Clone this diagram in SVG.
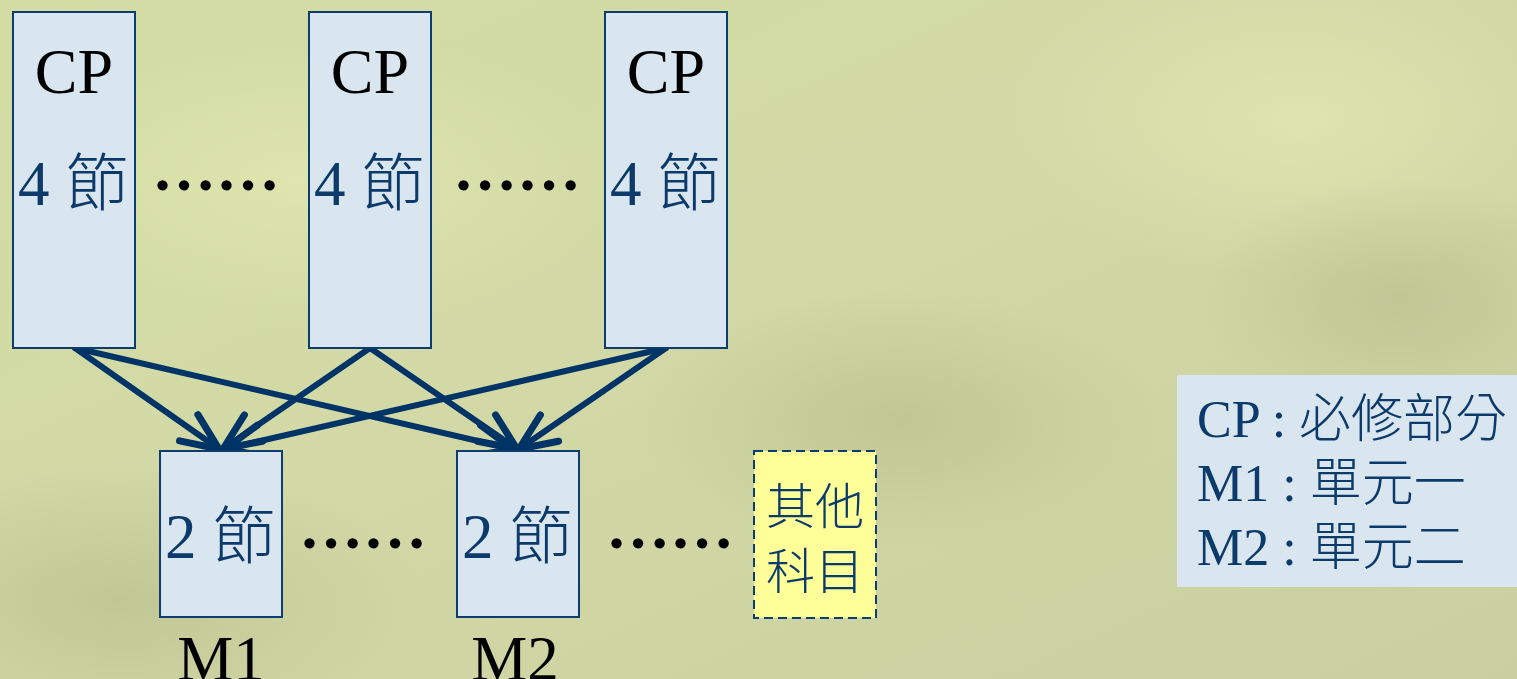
<svg xmlns="http://www.w3.org/2000/svg" width="1517" height="679" viewBox="0 0 1517 679">
<defs>
<linearGradient id="bg" x1="0" y1="0" x2="1" y2="1">
<stop offset="0" stop-color="#d3dca3"/>
<stop offset="0.45" stop-color="#d2d9a6"/>
<stop offset="1" stop-color="#c9cf9f"/>
</linearGradient>
<radialGradient id="lt" cx="0.5" cy="0.5" r="0.5">
<stop offset="0" stop-color="#dfe6b0" stop-opacity="0.9"/>
<stop offset="1" stop-color="#dfe6b0" stop-opacity="0"/>
</radialGradient>
<radialGradient id="dk" cx="0.5" cy="0.5" r="0.5">
<stop offset="0" stop-color="#bcc291" stop-opacity="0.8"/>
<stop offset="1" stop-color="#bcc291" stop-opacity="0"/>
</radialGradient>
<marker id="ah" markerUnits="userSpaceOnUse" viewBox="-50 -30 60 60" refX="0" refY="0" markerWidth="60" markerHeight="60" orient="auto">
<path d="M-37,-16 L0,0 L-37,16" fill="none" stroke="#003366" stroke-width="7" stroke-linecap="round" stroke-linejoin="round"/>
</marker>
<style>
.box{fill:#dae6ef;stroke:#0d3d6e;stroke-width:2}
.cp{font-family:"Liberation Serif","Noto Sans CJK TC",serif;font-size:64px;fill:#000;text-anchor:middle}
.bt{font-family:"Liberation Serif","Noto Sans CJK TC",serif;font-size:63px;font-weight:300;fill:#0b3a6b;text-anchor:middle}
.dots{font-family:"Liberation Serif",serif;font-size:64px;font-weight:bold;fill:#000}
.lab{font-family:"Liberation Serif",serif;font-size:63px;fill:#000;text-anchor:middle}
.leg{font-family:"Liberation Serif","Noto Sans CJK TC",serif;font-size:52px;font-weight:300;fill:#0b3a6b}
.ot{font-family:"Noto Sans CJK TC",sans-serif;font-size:49px;font-weight:300;fill:#0b3a6b;text-anchor:middle}
.arr{stroke:#003366;stroke-width:6;fill:none;stroke-linecap:round;marker-end:url(#ah)}
</style>
</defs>
<rect x="0" y="0" width="1517" height="679" fill="url(#bg)"/>
<ellipse cx="300" cy="180" rx="320" ry="150" fill="url(#lt)"/>
<ellipse cx="1300" cy="120" rx="300" ry="160" fill="url(#lt)"/>
<ellipse cx="120" cy="600" rx="300" ry="140" fill="url(#dk)"/>
<ellipse cx="900" cy="420" rx="260" ry="130" fill="url(#dk)"/>
<ellipse cx="1400" cy="300" rx="200" ry="120" fill="url(#dk)"/>

<g id="connectors">
<line class="arr" x1="75" y1="348" x2="219" y2="449"/>
<line class="arr" x1="75" y1="348" x2="513" y2="449"/>
<line class="arr" x1="370" y1="348" x2="223" y2="449"/>
<line class="arr" x1="370" y1="348" x2="517" y2="449"/>
<line class="arr" x1="666" y1="348" x2="225" y2="449"/>
<line class="arr" x1="666" y1="348" x2="519" y2="449"/>
</g>

<g id="cp1">
<rect class="box" x="13" y="12" width="122" height="336"/>
<text class="cp" x="74" y="93">CP</text>
<text class="bt" x="73" y="205">4 節</text>
</g>
<g id="cp2">
<rect class="box" x="309" y="12" width="122" height="336"/>
<text class="cp" x="370" y="93">CP</text>
<text class="bt" x="369" y="205">4 節</text>
</g>
<g id="cp3">
<rect class="box" x="605" y="12" width="122" height="336"/>
<text class="cp" x="666" y="93">CP</text>
<text class="bt" x="665" y="205">4 節</text>
</g>
<g id="dots-top">
<text class="dots" x="152" y="190">……</text>
<text class="dots" x="453" y="190">……</text>
</g>

<g id="m1">
<rect class="box" x="160" y="451" width="122" height="166"/>
<text class="bt" x="220" y="558">2 節</text>
<text class="lab" x="221" y="680">M1</text>
</g>
<g id="m2">
<rect class="box" x="457" y="451" width="122" height="166"/>
<text class="bt" x="517" y="558">2 節</text>
<text class="lab" x="515" y="680">M2</text>
</g>
<g id="dots-bottom">
<text class="dots" x="299" y="548">……</text>
<text class="dots" x="606" y="548">……</text>
</g>

<g id="others">
<rect x="754" y="451" width="122" height="167" fill="#ffff99" stroke="#0d3d6e" stroke-width="2" stroke-dasharray="9,5"/>
<text class="ot" x="815" y="524">其他</text>
<text class="ot" x="815" y="589">科目</text>
</g>

<g id="legend">
<rect x="1177" y="375" width="345" height="212" fill="#dae6ef"/>
<text class="leg" x="1197" y="437">CP : 必修部分</text>
<text class="leg" x="1197" y="501">M1 : 單元一</text>
<text class="leg" x="1197" y="565">M2 : 單元二</text>
</g>
</svg>
